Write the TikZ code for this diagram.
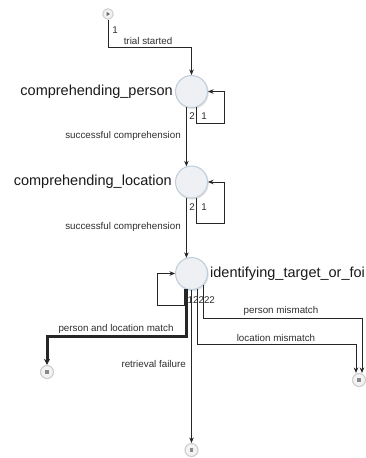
\documentclass[tikz,border=0pt]{standalone}
\usepackage{fontspec}
\setmainfont{Liberation Sans}
\usetikzlibrary{arrows.meta,calc}
\definecolor{edgecol}{HTML}{262626}
\definecolor{labelcol}{HTML}{2E2E2E}
\definecolor{statefill}{HTML}{EEF0F3}
\definecolor{stateborder}{HTML}{BFCCDA}
\definecolor{termfill}{HTML}{F3F3F3}
\definecolor{termborder}{HTML}{CDCDCD}
\definecolor{markcol}{HTML}{8A8A8A}
\definecolor{shadowcol}{HTML}{E2E2E2}
\begin{document}
\begin{tikzpicture}[x=1pt,y=1pt,
  state/.style={circle,minimum size=32pt,inner sep=0,fill=statefill,draw=stateborder,line width=1pt},
  term/.style={circle,minimum size=13pt,inner sep=0,fill=termfill,draw=termborder,line width=1.1pt},
  startnode/.style={circle,minimum size=10.5pt,inner sep=0,fill=termfill,draw=termborder,line width=1pt},
  flow/.style={draw=edgecol,line width=0.7pt,-{Stealth[length=5.5pt,width=4.5pt]}},
  lbl/.style={font=\fontsize{9.8}{11}\selectfont,text=labelcol,inner sep=0},
  big/.style={font=\fontsize{14.5}{16}\selectfont,text=black!90,inner sep=0}
]
\useasboundingbox (0,0) rectangle (365,-458);

% soft shadows under the state circles
\foreach \p in {(192.3,-92.6),(192.3,-183.1),(192.3,-274.6)}
  \fill[shadowcol] \p circle (16.5);

% states
\node[state] (c1) at (191.5,-91.5) {};
\node[state] (c2) at (191.5,-182) {};
\node[state] (c3) at (191.5,-273.5) {};

% initial and final nodes
\node[startnode] (s) at (108,-14) {};
\fill[markcol!80!black] (106.5,-11.8) -- (110,-14) -- (106.5,-16.2) -- cycle;
\node[term] (e1) at (47,-372) {};
\node[term] (e2) at (191.5,-450) {};
\node[term] (e3) at (359,-380) {};
\foreach \e in {e1,e2,e3}
  \fill[markcol] ($(\e)+(-1.7,-1.7)$) rectangle ++(3.4,3.4);

% state names
\node[big,anchor=east] (n1) at (173,-91.5) {comprehending\_person};
\node[big,anchor=east] (n2) at (172,-182) {comprehending\_location};
\node[big,anchor=west] (n3) at (210,-273.5) {identifying\_target\_or\_foi};

% transitions
\draw[flow] (s.south) -- ++(0,-28) -| (c1.north);
\draw[flow] (c1.-108) -- (c2.108);
\draw[flow] (c2.-108) -- (c3.108);
\draw[flow] (c1.-72) |- (224,-123) |- (c1.east);
\draw[flow] (c2.-72) |- (224,-223) |- (c2.east);
\draw[flow] (c3.-114) |- (157,-305) |- (c3.west);
\draw[flow,line width=3pt,-{Stealth[length=6pt,width=6pt]}] (c3.-106) |- (47,-336) -- (e1.north);
\draw[flow] (c3.south) -- (e2.north);
\draw[flow] (c3.-70) |- (356,-344) -- (e3.north -| 356,0);
\draw[flow] (c3.-44) |- (362,-318) -- (e3.north -| 362,0);

% transition labels
\node[lbl] (l0) at (115,-30) {1};
\node[lbl] (l1) at (148,-41) {trial started};
\node[lbl,anchor=east] (l2) at (181,-136) {successful comprehension};
\node[lbl,anchor=east] (l3) at (181,-227) {successful comprehension};
\node[lbl] (p1a) at (192,-116) {2};
\node[lbl] (p1b) at (204,-116) {1};
\node[lbl] (p2a) at (192,-207) {2};
\node[lbl] (p2b) at (204,-207) {1};
\node[lbl,anchor=west] (p3) at (187.5,-300) {12222};
\node[lbl] (l4) at (116,-329) {person and location match};
\node[lbl,anchor=east] (l5) at (186,-364) {retrieval failure};
\node[lbl] (l6) at (276,-338) {location mismatch};
\node[lbl] (l7) at (281,-311) {person mismatch};
\end{tikzpicture}
\end{document}
